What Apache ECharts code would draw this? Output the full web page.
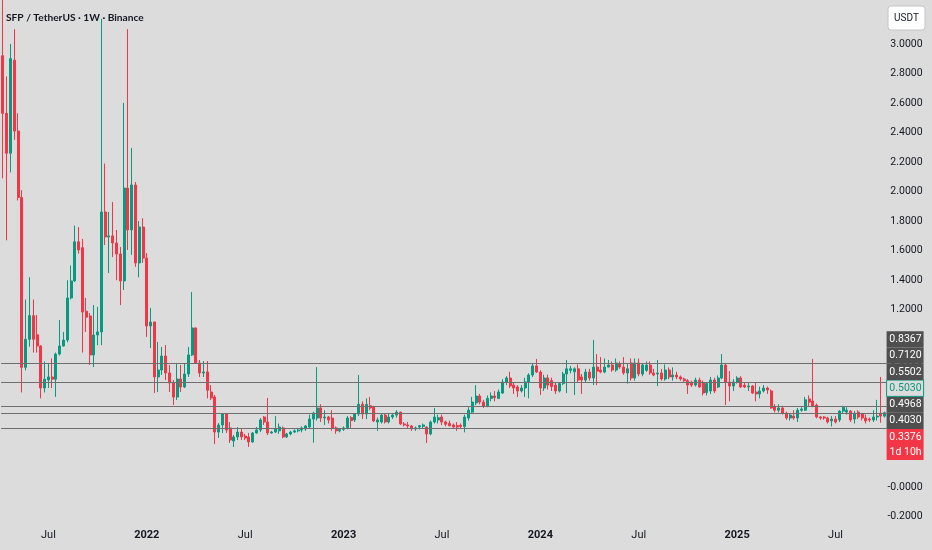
<!DOCTYPE html>
<html><head><meta charset="utf-8">
<script src="https://cdn.jsdelivr.net/npm/echarts@6/dist/echarts.min.js"></script>
<style>html,body{margin:0;padding:0;background:#dcdcdc}#c{width:932px;height:550px}</style>
</head><body><div id="c"></div>
<script>
const titleText = 'SFP / TetherUS · 1W · Binance';
const quoteUnit = 'USDT';
const startWeek = '2021-04-12';
const opens = [
2.92,2.53,2.26,2.89,2.41,1.96,0.81,1.00,1.16,1.03,
0.955,0.67,0.725,0.745,0.73,0.90,0.955,0.995,1.28,1.395,
1.66,1.62,1.19,1.158,0.894,1.029,1.05,1.862,1.693,1.70,
1.652,1.578,1.395,2.024,1.74,2.045,1.517,1.76,1.55,1.09,
1.117,0.745,0.792,0.887,0.772,0.704,0.609,0.731,0.677,0.765,
0.894,1.077,0.84,0.772,0.779,0.643,0.609,0.372,0.42,0.494,
0.40,0.311,0.339,0.372,0.345,0.339,0.305,0.366,0.386,0.474,
0.44,0.366,0.372,0.38,0.40,0.339,0.359,0.372,0.38,0.386,
0.393,0.406,0.46,0.467,0.535,0.467,0.474,0.467,0.40,0.38,
0.39,0.40,0.47,0.454,0.494,0.56,0.494,0.55,0.54,0.44,
0.44,0.487,0.44,0.474,0.487,0.507,0.427,0.42,0.413,0.393,
0.406,0.41,0.406,0.359,0.44,0.454,0.474,0.44,0.43,0.42,
0.415,0.418,0.41,0.467,0.507,0.569,0.616,0.575,0.548,0.60,
0.616,0.60,0.636,0.711,0.738,0.69,0.677,0.65,0.67,0.711,
0.758,0.82,0.778,0.67,0.738,0.72,0.69,0.65,0.70,0.765,
0.79,0.78,0.80,0.745,0.724,0.778,0.738,0.812,0.792,0.778,
0.812,0.826,0.792,0.833,0.812,0.772,0.84,0.738,0.84,0.765,
0.79,0.826,0.772,0.765,0.772,0.731,0.792,0.745,0.758,0.745,
0.731,0.72,0.71,0.69,0.724,0.704,0.64,0.65,0.724,0.677,
0.738,0.826,0.711,0.684,0.711,0.738,0.69,0.677,0.684,0.643,
0.63,0.65,0.67,0.65,0.542,0.52,0.535,0.50,0.467,0.48,
0.467,0.52,0.52,0.596,0.582,0.555,0.474,0.474,0.467,0.447,
0.46,0.454,0.514,0.507,0.514,0.46,0.507,0.494,0.467,0.46,
0.454,0.474,0.50,0.48];
const highs = [
3.45,2.78,3.00,3.10,2.53,2.01,1.27,1.42,1.27,1.165,
0.96,0.85,0.84,0.87,0.91,1.13,1.05,1.40,1.50,1.77,
1.76,1.68,1.28,1.178,1.232,1.22,3.17,2.19,1.862,1.93,
1.74,1.625,2.60,3.10,2.295,2.065,1.80,1.82,1.584,1.212,
1.12,0.982,0.948,0.961,0.826,0.724,0.84,0.826,0.833,0.948,
1.32,1.08,0.86,0.853,0.853,0.69,0.623,0.433,0.50,0.50,
0.44,0.352,0.406,0.40,0.36,0.366,0.372,0.406,0.467,0.48,
0.603,0.38,0.48,0.43,0.41,0.366,0.38,0.39,0.40,0.41,
0.42,0.49,0.51,0.812,0.56,0.52,0.48,0.52,0.41,0.40,
0.41,0.48,0.48,0.50,0.758,0.58,0.60,0.61,0.55,0.47,
0.50,0.50,0.50,0.50,0.52,0.51,0.44,0.44,0.42,0.41,
0.42,0.43,0.41,0.45,0.535,0.49,0.49,0.45,0.45,0.43,
0.44,0.43,0.49,0.54,0.61,0.69,0.63,0.59,0.62,0.64,
0.65,0.66,0.73,0.75,0.78,0.71,0.69,0.69,0.74,0.77,
0.84,0.867,0.79,0.76,0.76,0.74,0.71,0.71,0.78,0.86,
0.82,0.81,0.83,0.765,0.80,0.80,0.995,0.90,0.88,0.87,
0.86,0.85,0.87,0.85,0.88,0.84,0.87,0.87,0.87,0.84,
0.85,0.85,0.80,0.86,0.80,0.83,0.81,0.81,0.78,0.755,
0.74,0.73,0.72,0.74,0.74,0.72,0.71,0.745,0.74,0.755,
0.90,0.84,0.785,0.73,0.75,0.75,0.71,0.71,0.69,0.71,
0.68,0.69,0.68,0.66,0.56,0.56,0.55,0.51,0.50,0.52,
0.535,0.54,0.61,0.62,0.867,0.565,0.48,0.48,0.475,0.48,
0.48,0.52,0.55,0.54,0.52,0.515,0.52,0.50,0.49,0.47,
0.52,0.59,0.745,0.51];
const lows = [
2.09,1.67,2.13,2.35,1.94,0.64,0.79,0.95,0.91,0.91,
0.60,0.64,0.67,0.67,0.61,0.89,0.95,0.98,1.27,1.39,
1.58,0.91,1.05,0.826,0.812,0.96,0.96,1.638,1.449,1.557,
1.40,1.232,1.334,1.605,1.571,1.49,1.42,1.517,1.016,0.941,
0.636,0.643,0.758,0.724,0.643,0.555,0.589,0.643,0.670,0.745,
0.887,0.833,0.745,0.745,0.60,0.589,0.291,0.332,0.366,0.366,
0.298,0.271,0.318,0.318,0.318,0.271,0.30,0.36,0.372,0.42,
0.352,0.36,0.366,0.36,0.33,0.332,0.35,0.365,0.37,0.37,
0.38,0.40,0.30,0.45,0.44,0.42,0.43,0.38,0.36,0.37,
0.38,0.39,0.40,0.44,0.48,0.46,0.46,0.52,0.44,0.38,
0.43,0.43,0.43,0.46,0.47,0.42,0.41,0.40,0.38,0.38,
0.39,0.40,0.298,0.35,0.43,0.43,0.42,0.41,0.41,0.40,
0.38,0.40,0.37,0.45,0.50,0.555,0.56,0.535,0.54,0.58,
0.58,0.595,0.63,0.69,0.67,0.63,0.609,0.64,0.61,0.60,
0.745,0.772,0.623,0.65,0.66,0.65,0.63,0.64,0.69,0.636,
0.77,0.623,0.71,0.63,0.71,0.72,0.69,0.69,0.77,0.77,
0.81,0.78,0.78,0.80,0.76,0.70,0.72,0.72,0.75,0.75,
0.78,0.76,0.75,0.684,0.72,0.72,0.73,0.72,0.73,0.72,
0.71,0.63,0.677,0.68,0.67,0.62,0.62,0.63,0.636,0.67,
0.73,0.555,0.58,0.65,0.70,0.67,0.67,0.65,0.63,0.58,
0.60,0.64,0.63,0.53,0.505,0.505,0.49,0.455,0.45,0.455,
0.44,0.51,0.515,0.545,0.54,0.465,0.455,0.455,0.43,0.41,
0.43,0.44,0.50,0.49,0.44,0.43,0.46,0.45,0.43,0.44,
0.44,0.45,0.435,0.47];
const closes = [
2.53,2.26,2.90,2.41,1.96,0.81,1.00,1.16,1.00,0.955,
0.67,0.73,0.745,0.73,0.90,0.955,0.995,1.28,1.395,1.66,
1.605,1.185,1.15,0.894,1.029,1.05,1.862,1.693,1.70,1.652,
1.578,1.395,2.024,1.74,2.045,1.517,1.76,1.55,1.09,1.117,
0.745,0.792,0.887,0.772,0.704,0.609,0.731,0.677,0.765,0.894,
1.077,0.84,0.772,0.779,0.655,0.603,0.372,0.42,0.494,0.386,
0.318,0.339,0.372,0.339,0.332,0.305,0.366,0.386,0.454,0.44,
0.366,0.372,0.393,0.406,0.339,0.359,0.372,0.38,0.386,0.40,
0.413,0.46,0.50,0.535,0.467,0.474,0.454,0.40,0.38,0.39,
0.40,0.467,0.45,0.494,0.56,0.494,0.56,0.535,0.447,0.454,
0.487,0.44,0.474,0.487,0.507,0.427,0.42,0.413,0.393,0.40,
0.415,0.42,0.359,0.44,0.474,0.469,0.44,0.425,0.415,0.406,
0.406,0.41,0.474,0.52,0.575,0.616,0.575,0.548,0.60,0.616,
0.605,0.643,0.711,0.738,0.684,0.67,0.65,0.67,0.711,0.758,
0.82,0.778,0.67,0.738,0.69,0.68,0.65,0.70,0.765,0.80,
0.80,0.80,0.724,0.724,0.778,0.738,0.812,0.785,0.778,0.812,
0.826,0.792,0.84,0.812,0.772,0.80,0.738,0.84,0.765,0.826,
0.826,0.772,0.758,0.772,0.731,0.792,0.745,0.758,0.745,0.731,
0.72,0.69,0.69,0.724,0.677,0.636,0.70,0.724,0.65,0.738,
0.826,0.711,0.684,0.711,0.738,0.677,0.677,0.684,0.636,0.63,
0.65,0.67,0.657,0.535,0.52,0.535,0.50,0.467,0.487,0.467,
0.52,0.528,0.59,0.575,0.548,0.474,0.467,0.467,0.44,0.46,
0.44,0.514,0.54,0.52,0.454,0.50,0.474,0.467,0.447,0.454,
0.474,0.48,0.48,0.503];
const levelLines = [0.8367, 0.7120, 0.5502, 0.4968, 0.4030];
const priceTags = [
  {v: 0.8367, text: '0.8367', kind: 'level'},
  {v: 0.7120, text: '0.7120', kind: 'level'},
  {v: 0.5502, text: '0.5502', kind: 'level'},
  {v: 0.5030, text: '0.5030', kind: 'outline'},
  {v: 0.4968, text: '0.4968', kind: 'level'},
  {v: 0.4030, text: '0.4030', kind: 'level'},
  {v: 0.3376, text: '0.3376', sub: '1d 10h', kind: 'last'}
];
const yTicks = [-0.2,0,0.2,0.4,0.6,0.8,1.0,1.2,1.4,1.6,1.8,2.0,2.2,2.4,2.6,2.8,3.0];
const xTickDates = ['2021-07-05','2022-01-03','2022-07-04','2023-01-02','2023-07-03','2024-01-01','2024-07-01','2024-12-30','2025-06-30'];
const xTickTexts = ['Jul','2022','Jul','2023','Jul','2024','Jul','2025','Jul'];

const UP = '#089981', DOWN = '#f23645', FONT = 'Roboto', TFONT = 'Lato';
const t0 = Date.parse(startWeek + 'T00:00:00Z');
const categories = opens.map((_, i) => new Date(t0 + i * 7 * 86400000).toISOString().slice(0, 10));
const tickMap = {};
xTickDates.forEach((d, i) => { tickMap[d] = xTickTexts[i]; });
const ohlc = opens.map((o, i) => [o, closes[i], lows[i], highs[i]]);

const chart = echarts.init(document.getElementById('c'));
const GRID = {left: 1.1, right: 45.4, top: 0, bottom: 25};
chart.setOption({
  backgroundColor: '#dcdcdc',
  animation: false,
  textStyle: {fontFamily: FONT},
  title: {text: titleText, left: 1, top: 7.5,
    textStyle: {fontFamily: TFONT, fontSize: 10.2, fontWeight: 'bold', color: '#131722'}},
  grid: GRID,
  xAxis: {
    type: 'category', data: categories, boundaryGap: true,
    axisLine: {show: false}, axisTick: {show: false}, splitLine: {show: false},
    axisLabel: {
      interval: (i, v) => tickMap.hasOwnProperty(v),
      formatter: v => { const t = tickMap[v] || ''; return /^\d+$/.test(t) ? '{y|' + t + '}' : t; },
      color: '#131722', fontSize: 11, fontFamily: FONT, margin: 5,
      rich: {y: {fontWeight: 'bold', fontSize: 11, color: '#131722', fontFamily: FONT}}
    }
  },
  yAxis: {
    type: 'value', position: 'right', min: -0.2573, max: 3.2972,
    splitLine: {show: false}, axisLine: {show: false}, axisTick: {show: false},
    axisLabel: {
      customValues: yTicks,
      formatter: v => Math.abs(v) < 1e-9 ? '-0.0000' : v.toFixed(4),
      align: 'right', margin: 36, color: '#131722', fontSize: 10.5, fontFamily: FONT
    }
  },
  series: [{
    type: 'candlestick', data: ohlc, barWidth: 2.5,
    itemStyle: {color: UP, color0: DOWN, borderColor: UP, borderColor0: DOWN, borderWidth: 1},
    markLine: {
      silent: true, symbol: ['none', 'none'], animation: false,
      label: {show: false},
      lineStyle: {color: '#6e6e6e', width: 1.2, type: 'solid'},
      emphasis: {disabled: true},
      data: levelLines.map(v => ({yAxis: v}))
    }
  }]
});

// right-side price tags, stacked upward from the lowest like the reference
const tagH = 16.3;
const boxX = 932 - GRID.right;
const boxW = 37;
const gfx = [];
let prev = null;
priceTags.slice().sort((a, b) => a.v - b.v).forEach(t => {
  let cy = chart.convertToPixel({yAxisIndex: 0}, t.v);
  if (prev !== null) cy = Math.min(cy, prev - tagH);
  prev = cy;
  const top = cy - tagH / 2;
  const h = t.sub ? tagH * 1.9 : tagH;
  let fill = '#4f4f4f', stroke = null, tc = '#ffffff';
  if (t.kind === 'outline') { fill = '#dcdcdc'; stroke = UP; tc = UP; }
  if (t.kind === 'last') { fill = DOWN; }
  gfx.push({type: 'rect', z: 100, shape: {x: boxX, y: top, width: boxW, height: h},
    style: stroke ? {fill: fill, stroke: stroke, lineWidth: 1} : {fill: fill}});
  gfx.push({type: 'text', z: 101, style: {text: t.text, x: boxX + boxW - 2, y: cy, fill: tc,
    font: '10.5px ' + FONT, align: 'right', verticalAlign: 'middle'}});
  if (t.sub) gfx.push({type: 'text', z: 101, style: {text: t.sub, x: boxX + boxW - 2, y: cy + tagH * 0.95, fill: '#ffffff',
    font: '10.5px ' + FONT, align: 'right', verticalAlign: 'middle'}});
});
gfx.push({type: 'rect', z: 100, shape: {x: 888, y: 6, width: 37, height: 24, r: 3},
  style: {fill: '#ffffff', stroke: '#c4c4c4', lineWidth: 1}});
gfx.push({type: 'text', z: 101, style: {text: quoteUnit, x: 906.5, y: 18, fill: '#131722',
  font: '10px ' + FONT, align: 'center', verticalAlign: 'middle'}});
chart.setOption({graphic: gfx});
</script></body></html>
